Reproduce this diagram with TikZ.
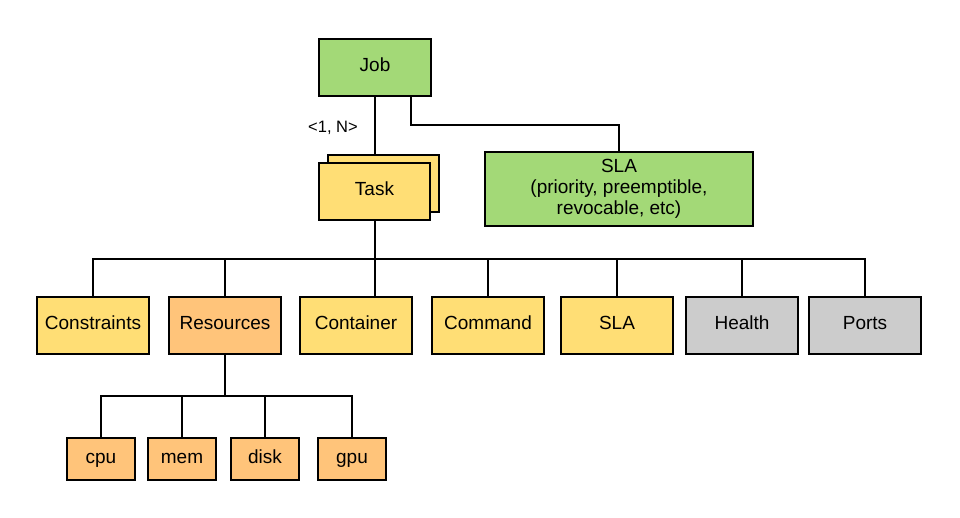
\documentclass[tikz,border=0pt]{standalone}
\usepackage{fontspec}
\setmainfont{Liberation Sans}
\definecolor{cgreen}{RGB}{163,217,119}
\definecolor{cyellow}{RGB}{255,222,117}
\definecolor{corange}{RGB}{255,196,122}
\definecolor{cgray}{RGB}{204,204,204}
\begin{document}
\begin{tikzpicture}[x=1pt,y=-1pt,
  box/.style={draw=black,line width=2pt,minimum width=#1,minimum height=57pt,inner sep=0pt,font=\fontsize{19}{21}\selectfont,text height=13.4pt,text depth=5pt,align=center},
  box/.default=112pt,
  small/.style={draw=black,line width=2pt,minimum width=68pt,minimum height=42pt,inner sep=0pt,font=\fontsize{19}{21}\selectfont,text height=13.4pt,text depth=5pt},
  wire/.style={line width=2pt}]
\useasboundingbox (0,0) rectangle (960,518);
% top
\node[box,fill=cgreen] (job) at (375,67.5) {Job};
\node[box=111pt,fill=cyellow] (taskback) at (383.5,183.5) {};
\node[box=111pt,fill=cyellow] (task) at (374.5,191.5) {Task};
\node[box=268pt,minimum height=74pt,fill=cgreen,text height=,text depth=] (sla) at (619,189) {SLA\\(priority, preemptible,\\revocable, etc)};
\node[font=\fontsize{16.5}{18}\selectfont] (card) at (333,128) {<1, N>};
% bottom row
\node[box,fill=cyellow] (constraints) at (93,325.5) {Constraints};
\node[box,fill=corange] (resources) at (225,325.5) {Resources};
\node[box,fill=cyellow] (container) at (356,325.5) {Container};
\node[box,fill=cyellow] (command) at (488,325.5) {Command};
\node[box,fill=cyellow] (sla2) at (617,325.5) {SLA};
\node[box,fill=cgray] (health) at (742,325.5) {Health};
\node[box,fill=cgray] (ports) at (865,325.5) {Ports};
% resources
\node[small,fill=corange] (cpu) at (101,459) {cpu};
\node[small,fill=corange] (mem) at (182,459) {mem};
\node[small,fill=corange] (disk) at (265,459) {disk};
\node[small,fill=corange] (gpu) at (352,459) {gpu};
% connectors
\coordinate (bus) at (375,259);
\coordinate (sbus) at (225,396);
\draw[wire] (job.south) -- (taskback.north -| job.south);
\draw[wire] (job.south -| 411,0) -- (411,125) -| (sla.north);
\draw[wire] (task.south -| 375,0) -- (container.north -| 375,0);
\draw[wire] (constraints.north) |- (bus) -| (ports.north);
\draw[wire] (resources.north) -- (resources.north |- bus);
\draw[wire] (command.north) -- (command.north |- bus);
\draw[wire] (sla2.north) -- (sla2.north |- bus);
\draw[wire] (health.north) -- (health.north |- bus);
\draw[wire] (resources.south) -- (sbus);
\draw[wire] (cpu.north) |- (sbus) -| (gpu.north);
\draw[wire] (mem.north) -- (mem.north |- sbus);
\draw[wire] (disk.north) -- (disk.north |- sbus);
\end{tikzpicture}
\end{document}
